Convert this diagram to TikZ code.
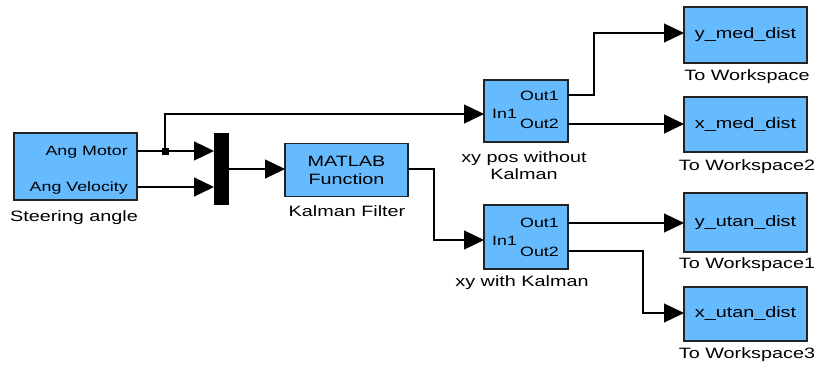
\documentclass[tikz,border=0pt]{standalone}
\usepackage{fontspec}
\setmainfont[FakeStretch=1.32]{Liberation Sans}
\usetikzlibrary{arrows.meta}
\definecolor{blkfill}{RGB}{102,187,255}
\definecolor{blkline}{RGB}{35,35,35}
\tikzset{
  blk/.style={draw=blkline, line width=1.3pt, fill=blkfill, inner sep=0pt},
  wire/.style={line width=1.3pt, draw=black},
  sig/.style={wire, -{Triangle[length=20pt,width=19pt]}},
  lbl/.style={font=\fontsize{15}{17}\selectfont, inner sep=0pt, align=center},
  port/.style={font=\fontsize{13.5}{15}\selectfont, inner sep=0pt},
}
\begin{document}
\begin{tikzpicture}[x=1pt,y=-1pt]
\useasboundingbox (0,0) rectangle (814,370);
% blocks
\node[blk, minimum width=123pt, minimum height=67pt] (steer) at (75.5,166.5) {};
\node[draw=black, fill=black, minimum width=14pt, minimum height=71pt, inner sep=0pt] (mux) at (221,168.5) {};
\node[blk, minimum width=123pt, minimum height=53pt, lbl] (kf) at (346.5,170) {MATLAB\\[1pt]Function};
\node[blk, minimum width=84pt, minimum height=62pt] (xyp) at (526,111) {};
\node[blk, minimum width=84pt, minimum height=64pt] (xyk) at (526,237) {};
\node[blk, minimum width=123pt, minimum height=56pt, lbl] (ymed) at (745.5,35) {y\_med\_dist};
\node[blk, minimum width=123pt, minimum height=55pt, lbl] (xmed) at (745.5,124.5) {x\_med\_dist};
\node[blk, minimum width=123pt, minimum height=59pt, lbl] (yutan) at (745.5,222.5) {y\_utan\_dist};
\node[blk, minimum width=123pt, minimum height=54pt, lbl] (xutan) at (745.5,314) {x\_utan\_dist};
% port labels
\node[port, anchor=east] (pm) at (128,152) {Ang Motor};
\node[port, anchor=east] (pv) at (128,188) {Ang Velocity};
\node[port, anchor=west] (p1i) at (492,114) {In1};
\node[port, anchor=east] (p1o1) at (559,96) {Out1};
\node[port, anchor=east] (p1o2) at (559,124) {Out2};
\node[port, anchor=west] (p2i) at (492,241) {In1};
\node[port, anchor=east] (p2o1) at (559,223) {Out1};
\node[port, anchor=east] (p2o2) at (559,252) {Out2};
% block labels
\node[lbl] (lsteer) at (74,218) {Steering angle};
\node[lbl] (lkf) at (347,211) {Kalman Filter};
\node[lbl] (lxyp) at (524,165.5) {xy pos without\\[0pt]Kalman};
\node[lbl] (lxyk) at (522,283) {xy with Kalman};
\node[lbl] (lw0) at (747,77) {To Workspace};
\node[lbl] (lw2) at (747,167) {To Workspace2};
\node[lbl] (lw1) at (747,265) {To Workspace1};
\node[lbl] (lw3) at (747,355) {To Workspace3};
% port coordinates
\coordinate (sm) at (137,151);
\coordinate (sv) at (137,187);
\coordinate (jn) at (165,151);
\coordinate (jup) at (165,114);
\coordinate (m1) at (214,151);
\coordinate (m2) at (214,187);
\coordinate (mo) at (228,169);
\coordinate (kfi) at (285,169);
\coordinate (kfo) at (408,169);
\coordinate (xypi) at (484,114);
\coordinate (xyki) at (484,240);
\coordinate (xypo1) at (568,95);
\coordinate (xypo2) at (568,124);
\coordinate (xyko1) at (568,223);
\coordinate (xyko2) at (568,251);
\coordinate (ymedi) at (684,33);
\coordinate (xmedi) at (684,124);
\coordinate (yutani) at (684,223);
\coordinate (xutani) at (684,313);
% wires
\draw[sig] (sm) -- (m1);
\draw[sig] (sv) -- (m2);
\draw[sig] (jn) -- (jup) -- (xypi);
\node[fill=black, minimum size=7pt, inner sep=0pt] (dot) at (jn) {};
\draw[sig] (mo) -- (kfi);
\draw[sig] (kfo) -- (434,169) -- (434,240) -- (xyki);
\draw[sig] (xypo1) -- (594,95) -- (594,33) -- (ymedi);
\draw[sig] (xypo2) -- (xmedi);
\draw[sig] (xyko1) -- (yutani);
\draw[sig] (xyko2) -- (643,251) -- (643,313) -- (xutani);
\end{tikzpicture}
\end{document}
